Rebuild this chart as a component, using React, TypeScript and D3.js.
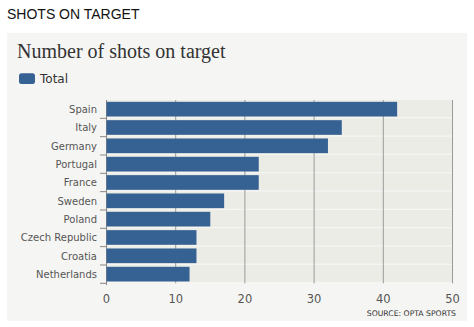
import React from "react";
import * as d3 from "d3";

const categories = ["Spain", "Italy", "Germany", "Portugal", "France", "Sweden", "Poland", "Czech Republic", "Croatia", "Netherlands"];
const totals = [42, 34, 32, 22, 22, 17, 15, 13, 13, 12];
const xTicks = [0, 10, 20, 30, 40, 50];
const seriesName = "Total";
const pageTitle = "SHOTS ON TARGET";
const chartTitle = "Number of shots on target";
const sourceText = "SOURCE: OPTA SPORTS";

export default function App() {
  const W = 474, H = 327;
  const x = d3.scaleLinear().domain([0, 50]).range([106.5, 452.5]);
  const y = d3.scaleBand<string>().domain(categories).range([100, 283.3]).paddingInner(0.2).paddingOuter(0.1);
  const step = y.step();
  const bandTop = (c: string) => 100 + categories.indexOf(c) * step;
  const blue = "#366193";
  const sans = "'DejaVu Sans', Verdana, sans-serif";
  return (
    <svg width={W} height={H} style={{ position: "absolute", left: 0, top: 0 }}>
      <rect x={0} y={0} width={W} height={H} fill="#ffffff" />
      <text x={7} y={19} fontFamily="'Liberation Sans', Arial, sans-serif" fontSize={14} fill="#111">{pageTitle}</text>
      <rect x={7} y={33} width={460} height={288} fill="#f5f5f3" />
      <text x={17} y={57.5} fontFamily="'Liberation Serif', Georgia, serif" fontSize={20} fill="#333">{chartTitle}</text>
      <rect x={19} y={73.3} width={16} height={10.7} rx={2.5} fill={blue} />
      <text x={40} y={83} fontFamily={sans} fontSize={12} fill="#333">{seriesName}</text>
      {categories.map((c) => (
        <rect key={"s" + c} x={x(0)} y={bandTop(c)} width={x(50) - x(0)} height={step - 1.3} fill="#ececE7" />
      ))}
      {xTicks.map((t) => (
        <line key={"g" + t} x1={x(t)} x2={x(t)} y1={100} y2={t === 0 ? 285 : 283.3} stroke={t === 0 ? "#888" : "#9a9a9a"} strokeWidth={1} />
      ))}
      {categories.map((c) => (
        <line key={"t" + c} x1={100} x2={x(0)} y1={bandTop(c) + step} y2={bandTop(c) + step} stroke="#888" strokeWidth={1} />
      ))}
      {categories.map((c, i) => (
        <rect key={"b" + c} x={x(0)} y={y(c)!} width={x(totals[i]) - x(0)} height={y.bandwidth()} fill={blue} />
      ))}
      {categories.map((c) => (
        <text key={"l" + c} x={97} y={y(c)! + y.bandwidth() / 2 + 4} textAnchor="end" fontFamily={sans} fontSize={10} fill="#555">{c}</text>
      ))}
      {xTicks.map((t) => (
        <text key={"x" + t} x={x(t)} y={302.7} textAnchor="middle" fontFamily={sans} fontSize={11.5} fill="#555">{t}</text>
      ))}
      <text x={456} y={315.5} textAnchor="end" fontFamily={sans} fontSize={7.7} fill="#333">{sourceText}</text>
    </svg>
  );
}
